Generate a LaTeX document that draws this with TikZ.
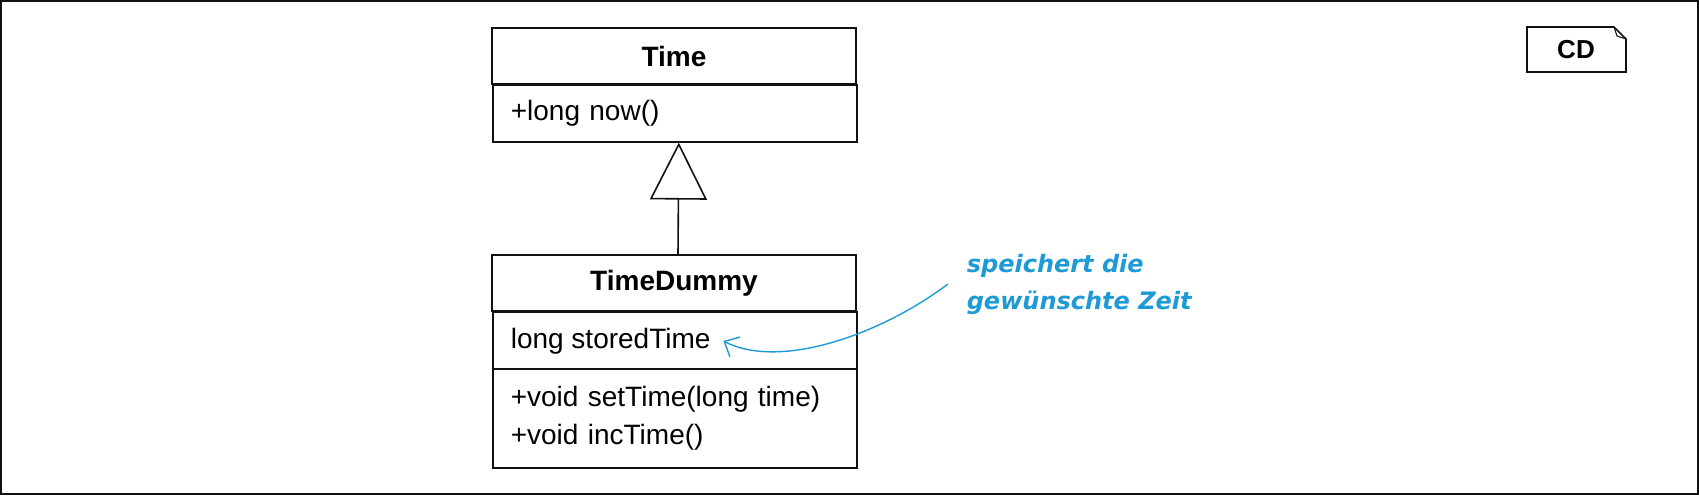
\documentclass[tikz,border=0pt]{standalone}
\usepackage{fontspec}
\setmainfont{Liberation Sans}
\newfontfamily\notefont{DejaVu Sans}
\usepackage{xcolor}
\usetikzlibrary{arrows.meta}
\definecolor{noteColor}{HTML}{1E9AD6}
\definecolor{lineColor}{HTML}{111111}

\begin{document}
\begin{tikzpicture}[x=1pt,y=-1pt,
    line width=1.6pt,
    compartment/.style={draw=lineColor,minimum width=364pt,inner sep=0pt},
    classname/.style={compartment,minimum height=56pt,font=\fontsize{28}{32}\selectfont\bfseries},
    members/.style={compartment,anchor=north west,inner xsep=18pt,text width=328pt,align=left,
        font=\fontsize{28}{38}\selectfont},
    gen/.style={-{Triangle[open,length=57pt,width=57pt]}},
    notearrow/.style={draw=noteColor,line width=1.4pt,-{Straight Barb[length=12pt,width=22pt]}}]
\useasboundingbox (0,0) rectangle (1699,495);
\draw[lineColor] (0.8,0.8) rectangle (1698.2,494.2);

\node[classname] (timeName) at (674,56) {Time};
\node[members,minimum height=57pt] (timeOps) at (492,84) {+long now()};

\node[classname] (dummyName) at (674,283) {TimeDummy};
\node[members,minimum height=57pt] (dummyAttr) at (492,311) {};
\node[anchor=west,inner sep=0pt,font=\fontsize{28}{32}\selectfont] (storedTime) at (510,341) {long storedTime};
\node[members,minimum height=99pt] (dummyOps) at (492,368)
    {+void setTime(long time)\\+void incTime()};

\draw[gen,lineColor] ([xshift=4pt]dummyName.north) -- ([xshift=4pt]timeOps.south);

\node[anchor=west,inner sep=0pt,align=left,text=noteColor,
    font=\notefont\fontsize{24}{37}\selectfont\bfseries\itshape] (note) at (966,284)
    {speichert die\\gewünschte Zeit};
\coordinate (attrEnd) at ([xshift=12pt]storedTime.east);
\draw[notearrow] ([xshift=-18pt]note.west) .. controls (880,335) and (780,370) .. (attrEnd);

\draw[lineColor] (1527,27) -- (1614,27) -- (1626,39) -- (1626,72) -- (1527,72) -- cycle;
\draw[lineColor,line width=1pt] (1614,27) -- (1617,36) -- (1626,39);
\node[font=\fontsize{26}{30}\selectfont\bfseries] (cdTag) at (1576,50) {CD};
\end{tikzpicture}
\end{document}
